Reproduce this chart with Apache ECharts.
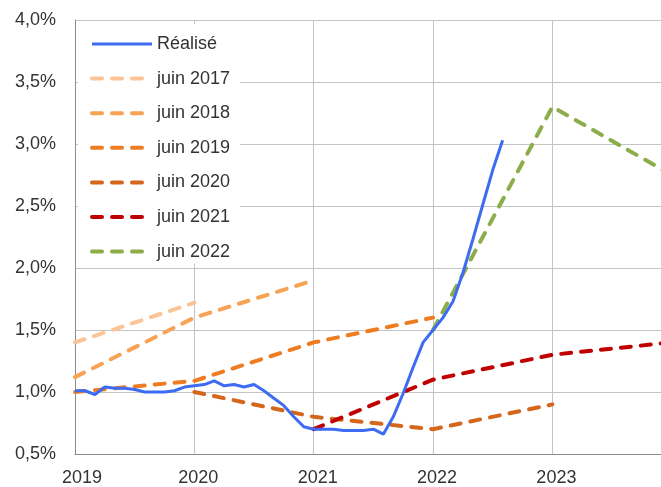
<!DOCTYPE html>
<html><head><meta charset="utf-8">
<script src="https://cdn.jsdelivr.net/npm/echarts@6/dist/echarts.min.js"></script>
<style>html,body{margin:0;padding:0;background:#fff}#c{width:661px;height:487px}</style>
</head><body><div id="c"></div>
<script>
// Réalisé: monthly values starting January 2019
const realiseStartYear = 2019;
const realiseValues = [1.01,1.01,0.98,1.04,1.03,1.03,1.02,1.00,1.00,1.00,1.01,1.04,
  1.05,1.06,1.09,1.05,1.06,1.04,1.06,1.01,0.95,0.89,0.80,0.72,
  0.70,0.70,0.70,0.69,0.69,0.69,0.70,0.66,0.80,0.99,1.20,1.40,
  1.50,1.60,1.73,1.96,2.23,2.51,2.79,3.03];
// Projections (annual points)
const juin2017Years = [2019, 2020];
const juin2017Values = [1.40, 1.72];
const juin2018Years = [2019, 2020, 2021];
const juin2018Values = [1.12, 1.60, 1.90];
const juin2019Years = [2019, 2020, 2021, 2022];
const juin2019Values = [1.00, 1.09, 1.40, 1.60];
const juin2020Years = [2020, 2021, 2022, 2023];
const juin2020Values = [1.00, 0.80, 0.70, 0.90];
const juin2021Years = [2021, 2022, 2023, 2024];
const juin2021Values = [0.70, 1.10, 1.30, 1.40];
const juin2022Years = [2022, 2023, 2024];
const juin2022Values = [1.50, 3.30, 2.75];
const yTicks = [0.5, 1.0, 1.5, 2.0, 2.5, 3.0, 3.5, 4.0];
const xTicks = [2019, 2020, 2021, 2022, 2023];

const realiseData = realiseValues.map((v, i) => [realiseStartYear + i / 12, v]);
const pair = (xs, ys) => xs.map((x, i) => [x, ys[i]]);

const font = 'Liberation Sans, Arial, sans-serif';
const dash = [10, 10];
const colors = {
  'Réalisé': '#3d6cf2', 'juin 2017': '#fbc497', 'juin 2018': '#f7a255', 'juin 2019': '#ee7d22',
  'juin 2020': '#d4671c', 'juin 2021': '#c00000', 'juin 2022': '#8cae4a'
};
function dashed(name, xs, ys) {
  const color = colors[name];
  return {
    name, type: 'line', data: pair(xs, ys), showSymbol: false, symbol: 'none',
    lineStyle: { color, width: 4, type: dash, cap: 'round' },
    itemStyle: { color }, z: 2
  };
}
const legendNames = ['Réalisé', 'juin 2017', 'juin 2018', 'juin 2019', 'juin 2020', 'juin 2021', 'juin 2022'];

const chart = echarts.init(document.getElementById('c'), null, { renderer: 'canvas' });
chart.setOption({
  animation: false,
  backgroundColor: '#fff',
  grid: { left: 75, right: 0, top: 20, bottom: 33, containLabel: false },
  xAxis: {
    type: 'value', min: 2019, max: 2023.91, interval: 1,
    axisLine: { show: true, lineStyle: { color: '#8c8c8c', width: 1 } },
    axisTick: { show: false },
    splitLine: { show: true, lineStyle: { color: '#c4c4c4', width: 1 } },
    axisLabel: {
      margin: 15, fontSize: 18, color: '#333', fontFamily: font,
      padding: [0, 0, 0, 8], showMaxLabel: false,
      formatter: v => !xTicks.includes(v) ? '' : (v === 2019 ? '{f|' + v + '}' : String(v)),
      rich: { f: { fontSize: 18, color: '#333', fontFamily: font, padding: [0, 0, 0, 6] } }
    }
  },
  yAxis: {
    type: 'value', min: 0.5, max: 4.0, interval: 0.5,
    axisLine: { show: true, lineStyle: { color: '#8c8c8c', width: 1 } },
    axisTick: { show: false },
    splitLine: { show: true, lineStyle: { color: '#c4c4c4', width: 1 } },
    axisLabel: {
      margin: 19, fontSize: 18, color: '#333', fontFamily: font,
      formatter: v => yTicks.includes(+v.toFixed(1)) ? v.toFixed(1).replace('.', ',') + '%' : ''
    }
  },
  legend: {
    orient: 'vertical', left: 78, top: 24,
    padding: [11, 10, 3, 12],
    backgroundColor: '#fff',
    itemWidth: 60, itemHeight: 14, itemGap: 16.6,
    itemStyle: { opacity: 0 },
    textStyle: { fontSize: 18, color: '#333', fontFamily: font },
    data: legendNames.map(n => ({
      name: n,
      itemStyle: { opacity: 0 },
      lineStyle: n === 'Réalisé'
        ? { color: colors[n], width: 3, type: 'solid' }
        : { color: colors[n], width: 4, type: dash, cap: 'round' }
    }))
  },
  series: [
    dashed('juin 2017', juin2017Years, juin2017Values),
    dashed('juin 2018', juin2018Years, juin2018Values),
    dashed('juin 2019', juin2019Years, juin2019Values),
    dashed('juin 2020', juin2020Years, juin2020Values),
    dashed('juin 2021', juin2021Years, juin2021Values),
    dashed('juin 2022', juin2022Years, juin2022Values),
    {
      name: 'Réalisé', type: 'line', data: realiseData, showSymbol: false, symbol: 'none',
      lineStyle: { color: colors['Réalisé'], width: 3 }, itemStyle: { color: colors['Réalisé'] }, z: 3
    }
  ]
});
</script>
</body></html>
